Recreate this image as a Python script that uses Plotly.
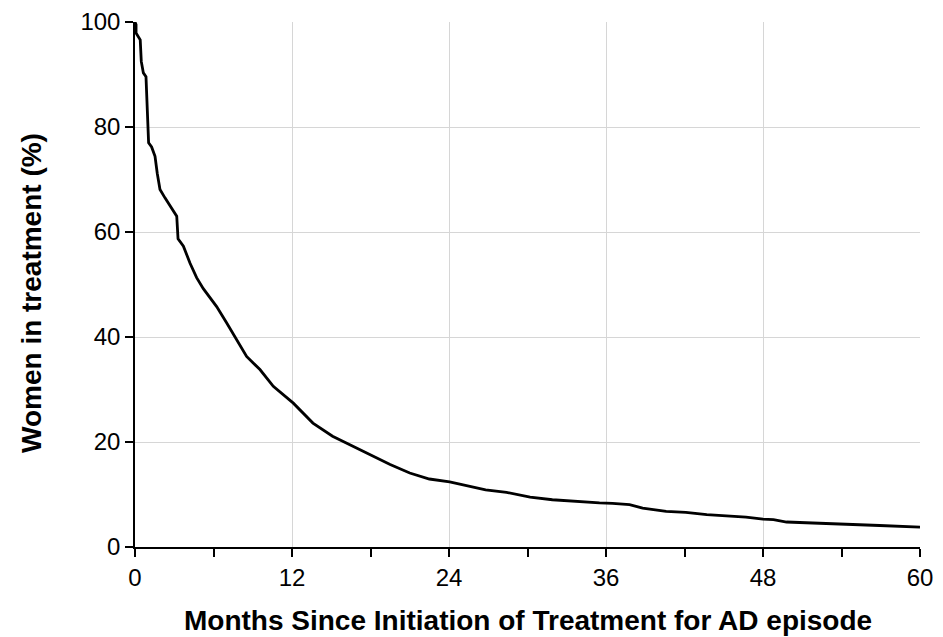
import plotly.graph_objects as go

months = [0, 0.08, 0.08, 0.2, 0.4, 0.48, 0.64, 0.84, 0.95, 1.04, 1.27, 1.53, 1.7, 1.91,
          2.29, 2.68, 3.19, 3.29, 3.7, 4.2, 4.71, 5.22, 5.47, 6.24, 7.0, 7.77, 8.53,
          9.55, 10.57, 12.1, 13.6, 15.1, 16.4, 17.7, 19.5, 21.0, 22.5, 24.05, 25.8,
          26.8, 28.4, 30.2, 31.9, 33.5, 35.5, 36.5, 37.8, 38.8, 40.6, 42.1, 43.7,
          46.7, 48.0, 48.8, 49.8, 51.8, 54.4, 56.9, 60]
women_pct = [100, 99.5, 97.9, 97.3, 96.6, 92.5, 90.3, 89.6, 82.7, 77.0, 76.2, 74.4, 71.2, 68.1,
             66.5, 64.9, 63.0, 58.7, 57.3, 54.1, 51.3, 49.2, 48.4, 45.8, 42.7, 39.5, 36.3,
             33.8, 30.6, 27.4, 23.6, 21.1, 19.5, 17.9, 15.7, 14.1, 12.95, 12.4, 11.5,
             10.9, 10.4, 9.5, 9.0, 8.7, 8.4, 8.3, 8.06, 7.4, 6.8, 6.6, 6.15,
             5.7, 5.3, 5.2, 4.76, 4.57, 4.4, 4.1, 3.8]

x_tick_vals = [0, 12, 24, 36, 48, 60]
y_tick_vals = [0, 20, 40, 60, 80, 100]
x_title = "Months Since Initiation of Treatment for AD episode"
y_title = "Women in treatment (%)"

font_family = "Arial, Liberation Sans, sans-serif"

fig = go.Figure()
fig.add_trace(go.Scatter(
    x=months, y=women_pct, mode="lines",
    line=dict(color="black", width=2.8),
    showlegend=False, hoverinfo="skip", cliponaxis=False,
))

fig.update_layout(
    width=935, height=629,
    margin=dict(l=127, r=23, t=14, b=90, autoexpand=False),
    paper_bgcolor="white", plot_bgcolor="white",
    font=dict(family=font_family, color="black", size=24),
    xaxis=dict(
        range=[0, 60], tickvals=x_tick_vals, ticktext=[str(v) for v in x_tick_vals],
        showgrid=True, gridcolor="#d6d6d6", gridwidth=1.2,
        showline=True, linecolor="black", linewidth=1.5,
        ticks="outside", ticklen=8, tickwidth=1.5, tickcolor="black",
        minor=dict(dtick=6, tick0=0, ticks="outside", ticklen=8, tickwidth=1.5,
                   tickcolor="black", showgrid=False),
        zeroline=False, tickfont=dict(size=24), automargin=False,
    ),
    yaxis=dict(
        range=[0, 100], tickvals=y_tick_vals, ticktext=[str(v) for v in y_tick_vals],
        showgrid=True, gridcolor="#d6d6d6", gridwidth=1.2,
        showline=True, linecolor="black", linewidth=1.5,
        ticks="outside", ticklen=8, tickwidth=1.5, tickcolor="black",
        zeroline=False, tickfont=dict(size=24), automargin=False,
    ),
    annotations=[
        dict(text="<b>" + x_title + "</b>", xref="paper", yref="paper", x=0.5, y=0,
             xanchor="center", yanchor="middle", yshift=-73, showarrow=False,
             font=dict(size=28)),
        dict(text="<b>" + y_title + "</b>", xref="paper", yref="paper", x=0, y=0.5,
             xanchor="center", yanchor="middle", xshift=-104, yshift=-8.5,
             textangle=-90, showarrow=False, font=dict(size=28)),
    ],
)

fig.write_html("out.html")
